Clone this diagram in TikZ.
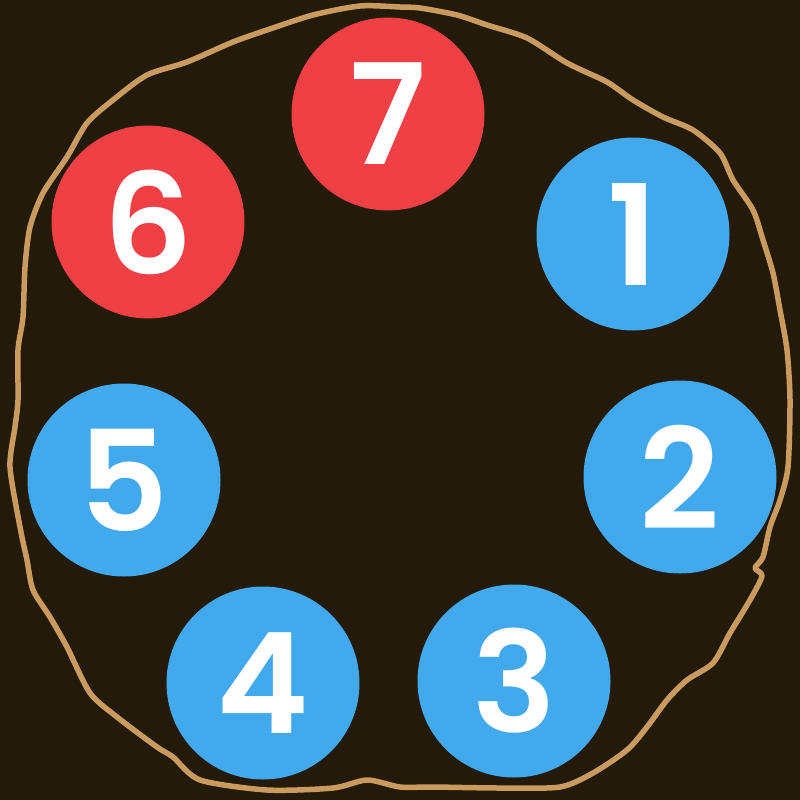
\documentclass[tikz,border=0pt]{standalone}
\usepackage{fontspec}
\newfontfamily\digitfont{Poppins SemiBold}
\definecolor{bg}{HTML}{231A0A}
\definecolor{rim}{HTML}{C99B5F}
\definecolor{redc}{HTML}{EF4045}
\definecolor{bluec}{HTML}{41A9EC}
\tikzset{
  ball/.style={circle, minimum size=193pt, inner sep=0pt, text=white,
    font=\fontsize{140}{140}\selectfont\digitfont},
  redball/.style={ball, fill=redc},
  blueball/.style={ball, fill=bluec},
  rimline/.style={draw=rim, line width=5.5pt, line join=round}
}
\begin{document}
\begin{tikzpicture}[x=1pt,y=-1pt]
\useasboundingbox (0,0) rectangle (800,800);
\fill[bg] (0,0) rectangle (800,800);
\draw[rimline] plot[smooth cycle, tension=0.45] coordinates {
(400,7) (420,8) (457,15) (487,25) (527,38) (567,63) (607,82) (633,100) (663,117)
(693,130) (720,153) (733,180) (753,210) (763,240) (773,273) (780,310) (787,350)
(790,400) (788,467) (780,500) (770,527) (763,557) (755,568) (762,576) (750,600)
(730,633) (713,663) (687,680) (667,700) (647,727) (627,750) (593,773) (560,787)
(500,788) (433,787) (400,787) (367,780) (333,788) (267,790) (200,780) (173,757)
(157,747) (117,717) (90,693) (67,647) (50,617) (33,590) (27,560) (20,527)
(10,467) (15,427) (18,400) (18,350) (23,317) (25,267) (30,227) (43,193) (67,157)
(87,123) (113,100) (147,75) (187,62) (233,42) (267,30) (313,15) (360,6)};
\node[redball]  (n7) at (388,114) {7};
\node[redball]  (n6) at (148,222) {6};
\node[blueball] (n1) at (633,234) {1};
\node[blueball] (n2) at (680,477) {2};
\node[blueball] (n3) at (514,681) {3};
\node[blueball] (n4) at (263,683) {4};
\node[blueball] (n5) at (124,480) {5};
\end{tikzpicture}
\end{document}
